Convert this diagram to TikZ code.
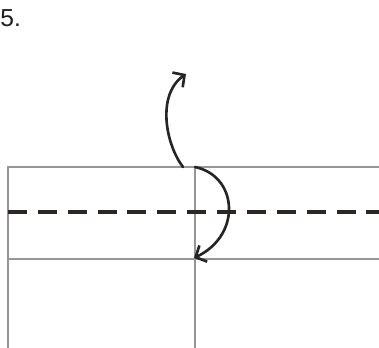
\documentclass[tikz,border=0pt]{standalone}
\usepackage{fontspec}
\setmainfont{Liberation Sans}
\usetikzlibrary{arrows.meta}
\definecolor{creasecol}{RGB}{150,150,150}
\definecolor{foldcol}{RGB}{45,38,34}
\definecolor{arrowcol}{RGB}{40,36,36}
\definecolor{labelcol}{RGB}{30,30,30}

\begin{document}
\begin{tikzpicture}[
  x=0.02cm, y=-0.02cm,
  crease/.style={draw=creasecol, line width=0.6pt},
  valley/.style={draw=foldcol, line width=2pt, dash pattern=on 10.8pt off 6.2pt},
  turn/.style={draw=arrowcol, line width=1.5pt, line cap=round,
    -{Straight Barb[length=1.7mm,width=3.6mm,line width=1.5pt]}},
  steplabel/.style={font=\fontsize{14}{16}\selectfont, text=labelcol, anchor=west, inner sep=0pt}
]
\useasboundingbox (0,0) rectangle (379,348);

%% ===================== Step number ==============================
\node[steplabel] (num) at (0,18) {5.};

%% ===================== Paper edges and creases ==================
\coordinate (tl)  at (8,167);
\coordinate (tr)  at (379,167);
\coordinate (bl)  at (8,348);
\coordinate (ml)  at (8,259);
\coordinate (mr)  at (379,259);
\coordinate (ct)  at (195,167);
\coordinate (cb)  at (195,348);
\draw[crease] (bl) -- (tl) -- (tr);
\draw[crease] (ml) -- (mr);
\draw[crease] (ct) -- (cb);

%% ===================== Valley fold line =========================
\coordinate (vl) at (8,212);
\coordinate (vr) at (379,212);
\draw[valley] (vl) -- (vr);

%% ===================== Fold arrows ==============================
\coordinate (upfrom) at (183,167);
\coordinate (upto)   at (186,74);
\draw[turn] (upfrom) .. controls (166,145) and (156,95) .. (upto);

\coordinate (dnto) at (194,258);
\draw[turn] (ct) .. controls (238,176) and (242,235) .. (dnto);

\end{tikzpicture}
\end{document}
